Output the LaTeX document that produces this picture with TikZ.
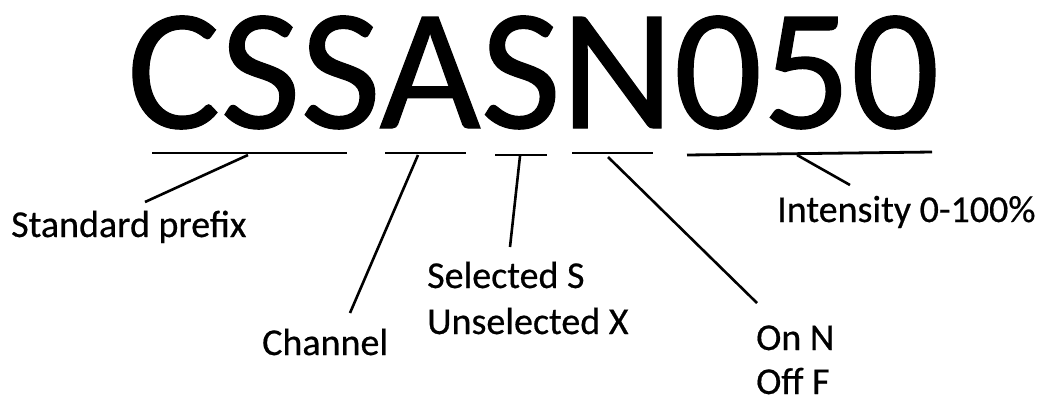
\documentclass[tikz,border=0pt]{standalone}
\usepackage{fontspec}
\setmainfont{Carlito}
\newfontfamily\bigfont[FakeBold=0.7]{Carlito}
\newfontfamily\lblfont[FakeBold=0.5]{Carlito}
\begin{document}
\begin{tikzpicture}[x=1pt,y=-1pt,
  lbl/.style={inner sep=0pt,anchor=base west,font=\lblfont\fontsize{38}{46}\selectfont},
  big/.style={inner sep=0pt,anchor=base west,font=\bigfont\fontsize{173}{200}\selectfont},
  ul/.style={line width=2.8pt},
  lead/.style={line width=2.6pt}]
\useasboundingbox (0,0) rectangle (1044,397);
\node[big,xscale=1.01] (code) at (127,128) {CSSASN050};
% underlines
\coordinate (u1a) at (152,153); \coordinate (u1b) at (347,153);
\coordinate (u2a) at (385,153); \coordinate (u2b) at (466,153);
\coordinate (u3a) at (495,155); \coordinate (u3b) at (547,155);
\coordinate (u4a) at (572,153); \coordinate (u4b) at (653,153);
\coordinate (u5a) at (687,155); \coordinate (u5b) at (932,152);
\draw[ul] (u1a) -- (u1b);
\draw[ul] (u2a) -- (u2b);
\draw[ul] (u3a) -- (u3b);
\draw[ul] (u4a) -- (u4b);
\draw[ul] (u5a) -- (u5b);
% labels
\node[lbl] (prefix) at (11,237) {Standard prefix};
\node[lbl] (channel) at (262,355) {Channel};
\node[lbl] (sel) at (427,288) {Selected S};
\node[lbl] (unsel) at (427,334) {Unselected X};
\node[lbl] (on) at (756,350) {On N};
\node[lbl] (off) at (756,394) {Off F};
\node[lbl] (int) at (777,222) {Intensity 0-100\%};
% leader points
\coordinate (s1) at (248,155); \coordinate (e1) at (145,202);
\coordinate (s2) at (418,155); \coordinate (e2) at (350,313);
\coordinate (s3) at (520,156); \coordinate (e3) at (510,247);
\coordinate (s4) at (608,157); \coordinate (e4) at (757,303);
\coordinate (s5) at (797,155); \coordinate (e5) at (850,185);
\draw[lead] (s1) -- (e1);
\draw[lead] (s2) -- (e2);
\draw[lead] (s3) -- (e3);
\draw[lead] (s4) -- (e4);
\draw[lead] (s5) -- (e5);
\end{tikzpicture}
\end{document}
